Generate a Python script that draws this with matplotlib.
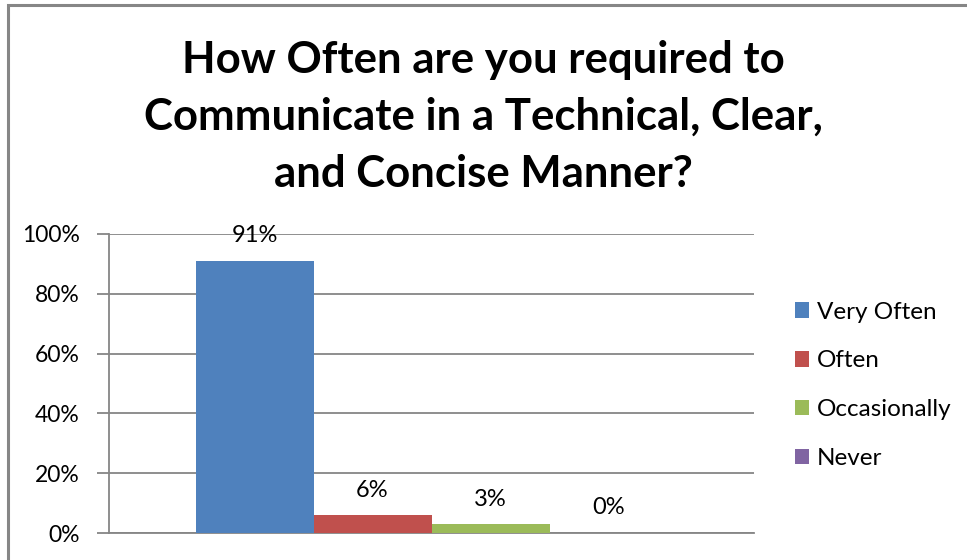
import matplotlib.pyplot as plt
from matplotlib.patches import Rectangle

categories = ["Very Often", "Often", "Occasionally", "Never"]
values = [0.91, 0.06, 0.03, 0.0]
labels = ["91%", "6%", "3%", "0%"]
colors = ["#4F81BD", "#C0504D", "#9BBB59", "#8064A2"]
yticks = [0, 0.2, 0.4, 0.6, 0.8, 1.0]
ytick_labels = ["0%", "20%", "40%", "60%", "80%", "100%"]
title = "How Often are you required to\nCommunicate in a Technical, Clear,\nand Concise Manner?"

plt.rcParams['font.family'] = ['Lato', 'DejaVu Sans']

W, H = 967, 560
fig = plt.figure(figsize=(W / 100, H / 100), dpi=100)
ax = fig.add_axes([109 / W, 1 - 533 / H, (754 - 109) / W, (533 - 234) / H])

# outer chart border (only top and left are in frame)
fig.add_artist(Rectangle((7.5 / W, -0.05), 1.2, 1.05 - 4.5 / H, transform=fig.transFigure,
                         fill=False, edgecolor="#868686", linewidth=2.2))

bw = 118 / 645
for i, (v, c, lab) in enumerate(zip(values, colors, labels)):
    x = 0.5 + (i - 1.5) * bw
    ax.bar(x, v, width=bw, color=c, label=categories[i], zorder=3)
    ax.annotate(lab, (x, v), xytext=(0, 25), textcoords="offset pixels",
                ha="center", va="center", fontsize=17, color="black")

ax.set_xlim(0, 1)
ax.set_ylim(0, 1)
ax.set_yticks(yticks)
ax.set_yticklabels(ytick_labels, fontsize=16.5)
ax.set_xticks([])
ax.yaxis.grid(True, color="#868686", linewidth=1.3, zorder=0)
ax.tick_params(axis="y", length=9, width=1.3, color="#868686", pad=12)
for s in ["top", "right"]:
    ax.spines[s].set_visible(False)
for s in ["left", "bottom"]:
    ax.spines[s].set_color("#868686")
    ax.spines[s].set_linewidth(1.3)

fig.text(483 / W, 1 - 117 / H, title, ha="center", va="center", fontsize=31.5,
         fontweight="bold", linespacing=1.52)

leg = fig.legend(loc="upper left", bbox_to_anchor=(785 / W, 1 - 292 / H), frameon=False,
                 fontsize=17.5, handlelength=0.6, handleheight=0.6, handletextpad=0.3,
                 labelspacing=1.14, borderaxespad=0)

fig.savefig("out.png", dpi=100)
